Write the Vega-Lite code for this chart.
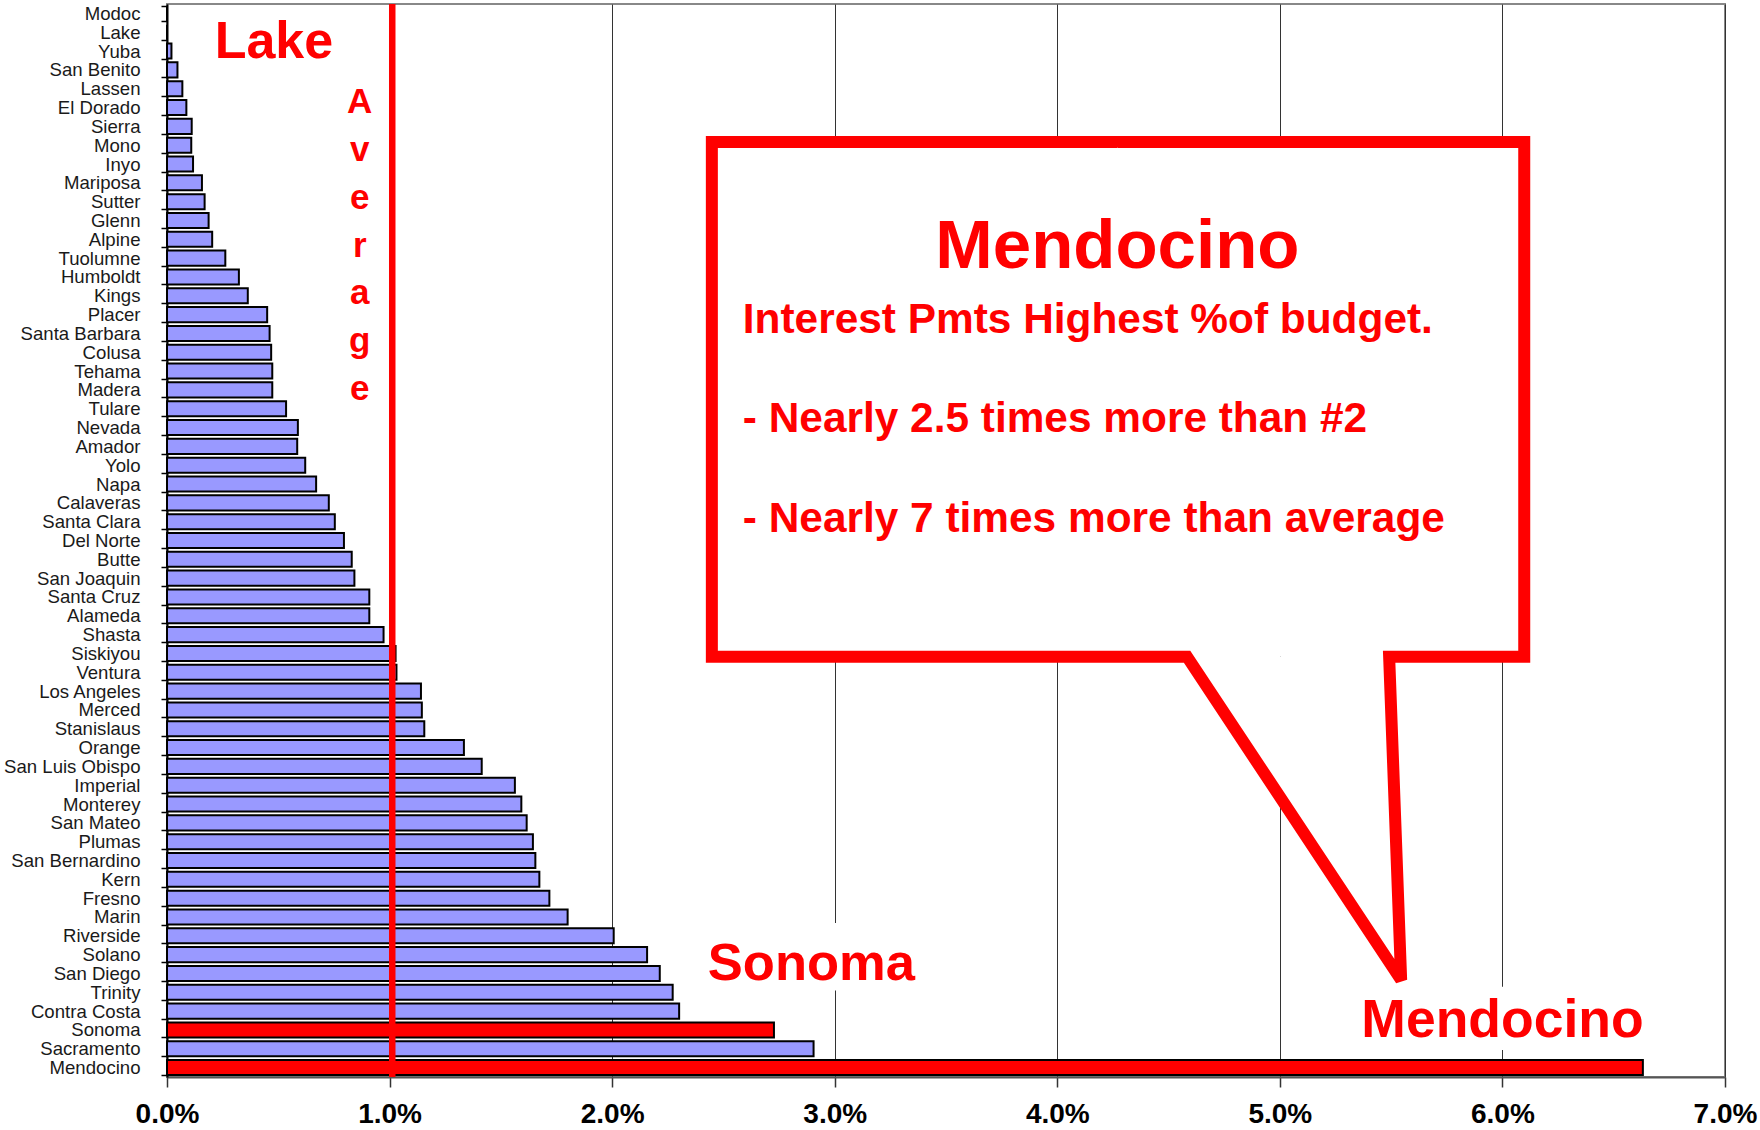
{
  "$schema": "https://vega.github.io/schema/vega-lite/v6.json",
  "width": 1558,
  "height": 1073,
  "autosize": "none",
  "padding": {"left": 167, "top": 4, "right": 35, "bottom": 53},
  "background": "white",
  "config": {"view": {"stroke": "#888888", "strokeWidth": 2}, "font": "Liberation Sans"},
  "datasets": {
    "counties": [
      {"county": "Modoc", "pct": 0},
      {"county": "Lake", "pct": 0},
      {"county": "Yuba", "pct": 0.02},
      {"county": "San Benito", "pct": 0.047},
      {"county": "Lassen", "pct": 0.069},
      {"county": "El Dorado", "pct": 0.087},
      {"county": "Sierra", "pct": 0.111},
      {"county": "Mono", "pct": 0.109},
      {"county": "Inyo", "pct": 0.117},
      {"county": "Mariposa", "pct": 0.157},
      {"county": "Sutter", "pct": 0.169},
      {"county": "Glenn", "pct": 0.187},
      {"county": "Alpine", "pct": 0.203},
      {"county": "Tuolumne", "pct": 0.262},
      {"county": "Humboldt", "pct": 0.323},
      {"county": "Kings", "pct": 0.363},
      {"county": "Placer", "pct": 0.45},
      {"county": "Santa Barbara", "pct": 0.461},
      {"county": "Colusa", "pct": 0.468},
      {"county": "Tehama", "pct": 0.473},
      {"county": "Madera", "pct": 0.473},
      {"county": "Tulare", "pct": 0.535},
      {"county": "Nevada", "pct": 0.588},
      {"county": "Amador", "pct": 0.585},
      {"county": "Yolo", "pct": 0.621},
      {"county": "Napa", "pct": 0.67},
      {"county": "Calaveras", "pct": 0.727},
      {"county": "Santa Clara", "pct": 0.754},
      {"county": "Del Norte", "pct": 0.795},
      {"county": "Butte", "pct": 0.83},
      {"county": "San Joaquin", "pct": 0.842},
      {"county": "Santa Cruz", "pct": 0.909},
      {"county": "Alameda", "pct": 0.909},
      {"county": "Shasta", "pct": 0.973},
      {"county": "Siskiyou", "pct": 1.027},
      {"county": "Ventura", "pct": 1.031},
      {"county": "Los Angeles", "pct": 1.141},
      {"county": "Merced", "pct": 1.145},
      {"county": "Stanislaus", "pct": 1.156},
      {"county": "Orange", "pct": 1.334},
      {"county": "San Luis Obispo", "pct": 1.414},
      {"county": "Imperial", "pct": 1.563},
      {"county": "Monterey", "pct": 1.592},
      {"county": "San Mateo", "pct": 1.616},
      {"county": "Plumas", "pct": 1.644},
      {"county": "San Bernardino", "pct": 1.655},
      {"county": "Kern", "pct": 1.673},
      {"county": "Fresno", "pct": 1.718},
      {"county": "Marin", "pct": 1.8},
      {"county": "Riverside", "pct": 2.007},
      {"county": "Solano", "pct": 2.157},
      {"county": "San Diego", "pct": 2.214},
      {"county": "Trinity", "pct": 2.272},
      {"county": "Contra Costa", "pct": 2.301},
      {"county": "Sonoma", "pct": 2.727},
      {"county": "Sacramento", "pct": 2.905},
      {"county": "Mendocino", "pct": 6.631}
    ],
    "callout": [
      {"x": 4.27, "r": 7.33, "o": 1},
      {"x": 6.098, "r": 7.33, "o": 2},
      {"x": 6.098, "r": 34.67, "o": 3},
      {"x": 5.491, "r": 34.67, "o": 4},
      {"x": 5.545, "r": 51.85, "o": 5},
      {"x": 4.583, "r": 34.67, "o": 6},
      {"x": 2.448, "r": 34.67, "o": 7},
      {"x": 2.448, "r": 7.33, "o": 8},
      {"x": 4.27, "r": 7.33, "o": 9}
    ],
    "tail": [
      {"x": 4.583, "x2": 5.491, "r": 34.67},
      {"x": 5.545, "x2": 5.545, "r": 51.85}
    ]
  },
  "data": {"name": "counties"},
  "resolve": {"scale": {"y": "independent"}},
  "layer": [
    {
      "mark": {"type": "bar", "stroke": "black", "strokeWidth": 2},
      "encoding": {
        "y": {
          "field": "county", "type": "nominal", "sort": null,
          "scale": {"paddingInner": 0.2, "paddingOuter": 0.1},
          "axis": {
            "title": null, "tickBand": "extent", "tickSize": 6, "tickColor": "black", "tickWidth": 1.5,
            "domainColor": "black", "domainWidth": 2, "labelFont": "Liberation Sans", "labelFontSize": 18.6,
            "labelColor": "#1a1a1a", "labelPadding": 21, "grid": false, "labelOverlap": false
          }
        },
        "x": {
          "field": "pct", "type": "quantitative",
          "scale": {"domain": [0, 7], "nice": false},
          "axis": {
            "title": null, "values": [0, 1, 2, 3, 4, 5, 6, 7],
            "labelExpr": "format(datum.value, '.1f') + '%'",
            "grid": true, "gridColor": "#333333", "gridWidth": 1,
            "domainColor": "#555555", "domainWidth": 2, "tickColor": "#333333", "tickSize": 10, "tickWidth": 1.5,
            "labelFont": "Liberation Sans", "labelFontSize": 28, "labelFontWeight": "bold", "labelColor": "black",
            "labelPadding": 13, "labelOverlap": false, "labelBound": false, "labelFlush": false
          }
        },
        "color": {
          "condition": {"test": "datum.county === 'Sonoma' || datum.county === 'Mendocino'", "value": "#FF0000"},
          "value": "#9999FF"
        }
      }
    },
    {
      "data": {"values": [{}]},
      "mark": {"type": "rule", "color": "#FF0000", "strokeWidth": 6.5},
      "encoding": {"x": {"datum": 1.012, "type": "quantitative"}}
    },
    {
      "data": {"values": [{}]},
      "mark": {"type": "rect", "color": "white"},
      "encoding": {
        "x": {"datum": 2.36, "type": "quantitative"}, "x2": {"datum": 3.45},
        "y": {"datum": 48.82, "type": "quantitative", "scale": {"domain": [0, 57], "reverse": true, "nice": false, "zero": false}, "axis": null},
        "y2": {"datum": 52.4}
      }
    },
    {
      "data": {"values": [{}]},
      "mark": {"type": "rect", "color": "white"},
      "encoding": {
        "x": {"datum": 5.3, "type": "quantitative"}, "x2": {"datum": 6.75},
        "y": {"datum": 52.2, "type": "quantitative", "scale": {"domain": [0, 57], "reverse": true, "nice": false, "zero": false}, "axis": null},
        "y2": {"datum": 55.56}
      }
    },
    {
      "data": {"values": [{}]},
      "mark": {"type": "rect", "color": "white"},
      "encoding": {
        "x": {"datum": 2.448, "type": "quantitative"}, "x2": {"datum": 6.098},
        "y": {"datum": 7.33, "type": "quantitative", "scale": {"domain": [0, 57], "reverse": true, "nice": false, "zero": false}, "axis": null},
        "y2": {"datum": 34.67}
      }
    },
    {
      "data": {"name": "tail"},
      "mark": {"type": "area", "orient": "horizontal", "color": "white"},
      "encoding": {
        "x": {"field": "x", "type": "quantitative"}, "x2": {"field": "x2"},
        "y": {"field": "r", "type": "quantitative", "scale": {"domain": [0, 57], "reverse": true, "nice": false, "zero": false}, "axis": null}
      }
    },
    {
      "data": {"name": "callout"},
      "mark": {"type": "line", "color": "#FF0000", "strokeWidth": 12, "strokeJoin": "miter", "strokeMiterLimit": 3, "strokeCap": "butt"},
      "encoding": {
        "x": {"field": "x", "type": "quantitative"},
        "y": {"field": "r", "type": "quantitative", "scale": {"domain": [0, 57], "reverse": true, "nice": false, "zero": false}, "axis": null},
        "order": {"field": "o", "type": "quantitative"}
      }
    },
    {
      "data": {"values": [{}]},
      "mark": {"type": "text", "color": "#FF0000", "font": "Liberation Sans", "fontWeight": "bold", "fontSize": 52, "align": "left", "baseline": "alphabetic"},
      "encoding": {
        "x": {"datum": 0.214, "type": "quantitative"},
        "y": {"datum": 2.885, "type": "quantitative", "scale": {"domain": [0, 57], "reverse": true, "nice": false, "zero": false}, "axis": null},
        "text": {"value": "Lake"}
      }
    },
    {
      "data": {"values": [{}]},
      "mark": {"type": "text", "color": "#FF0000", "font": "Liberation Sans", "fontWeight": "bold", "fontSize": 35, "align": "center", "baseline": "alphabetic", "lineBreak": "\n", "lineHeight": 47.8},
      "encoding": {
        "x": {"datum": 0.866, "type": "quantitative"},
        "y": {"datum": 5.806, "type": "quantitative", "scale": {"domain": [0, 57], "reverse": true, "nice": false, "zero": false}, "axis": null},
        "text": {"value": "A\nv\ne\nr\na\ng\ne"}
      }
    },
    {
      "data": {"values": [{}]},
      "mark": {"type": "text", "color": "#FF0000", "font": "Liberation Sans", "fontWeight": "bold", "fontSize": 52.5, "align": "left", "baseline": "alphabetic"},
      "encoding": {
        "x": {"datum": 2.43, "type": "quantitative"},
        "y": {"datum": 51.84, "type": "quantitative", "scale": {"domain": [0, 57], "reverse": true, "nice": false, "zero": false}, "axis": null},
        "text": {"value": "Sonoma"}
      }
    },
    {
      "data": {"values": [{}]},
      "mark": {"type": "text", "color": "#FF0000", "font": "Liberation Sans", "fontWeight": "bold", "fontSize": 53.5, "align": "left", "baseline": "alphabetic"},
      "encoding": {
        "x": {"datum": 5.366, "type": "quantitative"},
        "y": {"datum": 54.87, "type": "quantitative", "scale": {"domain": [0, 57], "reverse": true, "nice": false, "zero": false}, "axis": null},
        "text": {"value": "Mendocino"}
      }
    },
    {
      "data": {"values": [{}]},
      "mark": {"type": "text", "color": "#FF0000", "font": "Liberation Sans", "fontWeight": "bold", "fontSize": 69, "align": "center", "baseline": "alphabetic"},
      "encoding": {
        "x": {"datum": 4.27, "type": "quantitative"},
        "y": {"datum": 14.02, "type": "quantitative", "scale": {"domain": [0, 57], "reverse": true, "nice": false, "zero": false}, "axis": null},
        "text": {"value": "Mendocino"}
      }
    },
    {
      "data": {"values": [{}]},
      "mark": {"type": "text", "color": "#FF0000", "font": "Liberation Sans", "fontWeight": "bold", "fontSize": 42.4, "align": "left", "baseline": "alphabetic"},
      "encoding": {
        "x": {"datum": 2.587, "type": "quantitative"},
        "y": {"datum": 17.48, "type": "quantitative", "scale": {"domain": [0, 57], "reverse": true, "nice": false, "zero": false}, "axis": null},
        "text": {"value": "Interest Pmts Highest %of budget."}
      }
    },
    {
      "data": {"values": [{}]},
      "mark": {"type": "text", "color": "#FF0000", "font": "Liberation Sans", "fontWeight": "bold", "fontSize": 42.4, "align": "left", "baseline": "alphabetic"},
      "encoding": {
        "x": {"datum": 2.587, "type": "quantitative"},
        "y": {"datum": 22.72, "type": "quantitative", "scale": {"domain": [0, 57], "reverse": true, "nice": false, "zero": false}, "axis": null},
        "text": {"value": "- Nearly 2.5 times more than #2"}
      }
    },
    {
      "data": {"values": [{}]},
      "mark": {"type": "text", "color": "#FF0000", "font": "Liberation Sans", "fontWeight": "bold", "fontSize": 42.4, "align": "left", "baseline": "alphabetic"},
      "encoding": {
        "x": {"datum": 2.587, "type": "quantitative"},
        "y": {"datum": 28.03, "type": "quantitative", "scale": {"domain": [0, 57], "reverse": true, "nice": false, "zero": false}, "axis": null},
        "text": {"value": "- Nearly 7 times more than average"}
      }
    }
  ]
}
